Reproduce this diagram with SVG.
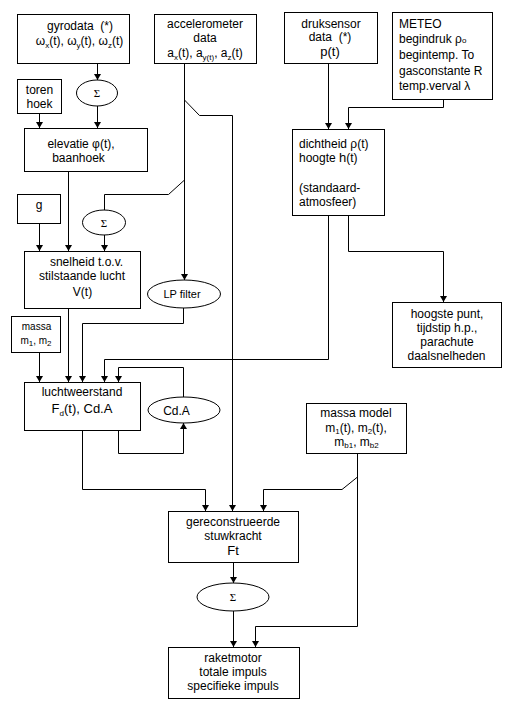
<svg xmlns="http://www.w3.org/2000/svg" width="520" height="716" viewBox="0 0 520 716">
<defs>
<style>
.b{fill:#fff;stroke:#000;stroke-width:1}
.c{fill:none;stroke:#000;stroke-width:1}
.a{marker-end:url(#ah)}
text{font-family:"Liberation Sans",Arial,sans-serif;font-size:12px;fill:#000}
.m{text-anchor:middle}
.big{font-size:13px}
.sm{font-size:10px}
.sg{font-family:"Liberation Serif","Times New Roman",serif;font-size:11px}
.sub{font-size:8px}
</style>
<marker id="ah" markerWidth="8" markerHeight="8" refX="6" refY="4" orient="auto" markerUnits="userSpaceOnUse"><path d="M0,0.5 L6,4 L0,7.5 z" fill="#000"/></marker>
</defs>
<rect width="520" height="716" fill="#fff"/>

<g id="connectors">
<path class="c a" d="M97.5,63 V80"/>
<path class="c a" d="M97.5,106 V128"/>
<path class="c a" d="M39.5,113 V128"/>
<path class="c a" d="M68.5,171 V251"/>
<path class="c a" d="M39.5,223 V251"/>
<path class="c a" d="M104.5,235 V251"/>
<path class="c" d="M184.5,180 L168.5,194.5 H104.5 V210"/>
<path class="c a" d="M184.5,63 V280"/>
<path class="c a" d="M184.5,100 L199.5,115.5 H232.5 V511"/>
<path class="c a" d="M183.5,308 V323.5 H82.5 V382"/>
<path class="c a" d="M68.5,308 V382"/>
<path class="c a" d="M39.5,352 V382"/>
<path class="c a" d="M328.5,215 V359.5 H104.5 V382"/>
<path class="c a" d="M183.5,397 V367.5 H118.5 V382"/>
<path class="c a" d="M118.5,431 V453.5 H183.5 V423"/>
<path class="c a" d="M328.5,63 V129"/>
<path class="c a" d="M443.5,99 V107.5 H348.5 V129"/>
<path class="c a" d="M348.5,215 V251.5 H443.5 V302"/>
<path class="c a" d="M82.5,431 V489.5 H205.5 V511"/>
<path class="c a" d="M357.5,477 L342,489.5 H263.5 V511"/>
<path class="c a" d="M357.5,453 V626.5 H255.5 V647"/>
<path class="c a" d="M233.5,562 V583"/>
<path class="c a" d="M233.5,611 V647"/>
</g>

<g id="gyrodata">
<rect class="b" x="17.5" y="14.5" width="112" height="49"/>
<text class="m" x="80" y="29.5">gyrodata&#160;&#160;(*)</text>
<text class="m" x="79.5" y="45">ω<tspan class="sub" dy="3">x</tspan><tspan dy="-3">(t), ω</tspan><tspan class="sub" dy="3">y</tspan><tspan dy="-3">(t), ω</tspan><tspan class="sub" dy="3">z</tspan><tspan dy="-3">(t)</tspan></text>
</g>

<g id="accelerometer">
<rect class="b" x="154.5" y="14.5" width="102" height="49"/>
<text class="m" x="205" y="28">accelerometer</text>
<text class="m" x="205" y="41.5">data</text>
<text class="m" x="205" y="57">a<tspan class="sub" dy="3">x</tspan><tspan dy="-3">(t), a</tspan><tspan class="sub" dy="3">y(t)</tspan><tspan dy="-3">, a</tspan><tspan class="sub" dy="3">z</tspan><tspan dy="-3">(t)</tspan></text>
</g>

<g id="druksensor">
<rect class="b" x="284.5" y="12.5" width="93" height="51"/>
<text class="m" x="331" y="27.5">druksensor</text>
<text class="m" x="330" y="41">data&#160;&#160;(*)</text>
<text class="m big" x="330" y="56">p(t)</text>
</g>

<g id="meteo">
<rect class="b" x="392.5" y="12.5" width="100" height="87"/>
<text x="399" y="27.5">METEO</text>
<text x="399" y="43">begindruk ρ<tspan class="sub">o</tspan></text>
<text x="399" y="59">begintemp. To</text>
<text x="399" y="74.5">gasconstante R</text>
<text x="399" y="90">temp.verval λ</text>
</g>

<g id="sigma1">
<ellipse class="b" cx="97" cy="93" rx="20.5" ry="13"/>
<text class="m sg" x="97" y="97">Σ</text>
</g>

<g id="torenhoek">
<rect class="b" x="17.5" y="79.5" width="44" height="34"/>
<text class="m" x="39.5" y="94">toren</text>
<text class="m" x="39.5" y="108">hoek</text>
</g>

<g id="elevatie">
<rect class="b" x="24.5" y="128.5" width="123" height="43"/>
<text class="m" x="81" y="147.5">elevatie φ(t),</text>
<text class="m" x="78.5" y="161.5">baanhoek</text>
</g>

<g id="dichtheid">
<rect class="b" x="292.5" y="129.5" width="92" height="86"/>
<text x="299" y="147.5">dichtheid ρ(t)</text>
<text x="299" y="162">hoogte <tspan class="big">h</tspan>(t)</text>
<text x="299" y="192">(standaard-</text>
<text x="299" y="206">atmosfeer)</text>
</g>

<g id="g">
<rect class="b" x="17.5" y="194.5" width="43" height="29"/>
<text class="m" x="39" y="209">g</text>
</g>

<g id="sigma2">
<ellipse class="b" cx="104" cy="222.5" rx="21.5" ry="12.5"/>
<text class="m sg" x="104" y="226.5">Σ</text>
</g>

<g id="snelheid">
<rect class="b" x="24.5" y="251.5" width="116" height="57"/>
<text class="m" x="86.5" y="266">snelheid t.o.v.</text>
<text class="m" x="82" y="280">stilstaande lucht</text>
<text class="m" x="82.5" y="296">V(t)</text>
</g>

<g id="lpfilter">
<ellipse class="b" cx="184" cy="294" rx="36.5" ry="14"/>
<text class="m" x="182" y="297.5" style="font-size:11px">LP filter</text>
</g>

<g id="massa">
<rect class="b" x="11.5" y="316.5" width="49" height="36"/>
<text class="m sm" x="36.5" y="329.5">massa</text>
<text class="m sm" x="36" y="344">m<tspan class="sub" dy="2">1</tspan><tspan dy="-2">, m</tspan><tspan class="sub" dy="2">2</tspan></text>
</g>

<g id="luchtweerstand">
<rect class="b" x="24.5" y="382.5" width="116" height="48"/>
<text class="m" x="82" y="396">luchtweerstand</text>
<text class="m big" x="82" y="413">F<tspan class="sub" dy="3">d</tspan><tspan dy="-3">(t), Cd.A</tspan></text>
</g>

<g id="cda">
<ellipse class="b" cx="184" cy="410" rx="36" ry="13"/>
<text class="m" x="176.5" y="415">Cd.A</text>
</g>

<g id="hoogstepunt">
<rect class="b" x="392.5" y="302.5" width="109" height="65"/>
<text class="m" x="447" y="318">hoogste punt,</text>
<text class="m" x="447" y="332">tijdstip h.p.,</text>
<text class="m" x="447" y="346">parachute</text>
<text class="m" x="446.5" y="360">daalsnelheden</text>
</g>

<g id="massamodel">
<rect class="b" x="306.5" y="403.5" width="100" height="50"/>
<text class="m" x="356" y="417">massa model</text>
<text class="m" x="356" y="432">m<tspan class="sub" dy="2">1</tspan><tspan dy="-2">(t), m</tspan><tspan class="sub" dy="2">2</tspan><tspan dy="-2">(t),</tspan></text>
<text class="m" x="356.5" y="446">m<tspan class="sub" dy="2">b1</tspan><tspan dy="-2">, m</tspan><tspan class="sub" dy="2">b2</tspan></text>
</g>

<g id="gereconstrueerde">
<rect class="b" x="168.5" y="511.5" width="130" height="51"/>
<text class="m" x="233" y="526">gereconstrueerde</text>
<text class="m" x="233" y="540">stuwkracht</text>
<text class="m big" x="233" y="554.5">Ft</text>
</g>

<g id="sigma3">
<ellipse class="b" cx="233" cy="597" rx="36" ry="14"/>
<text class="m sg" x="233" y="601">Σ</text>
</g>

<g id="raketmotor">
<rect class="b" x="168.5" y="647.5" width="131" height="51"/>
<text class="m" x="233" y="662">raketmotor</text>
<text class="m" x="233" y="676">totale impuls</text>
<text class="m" x="233" y="690">specifieke impuls</text>
</g>
</svg>
